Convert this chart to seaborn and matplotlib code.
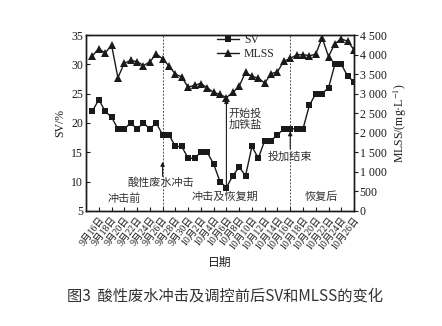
import matplotlib
matplotlib.use("Agg")
import matplotlib.pyplot as plt
import pandas as pd
import seaborn as sns

# Daily sampling dates
dates = pd.date_range("2018-09-15", "2018-10-26", freq="D")

# Sludge settling ratio SV (%)
sv = [22, 24, 22, 21, 19, 19, 20, 19, 20, 19, 20, 18, 18, 16, 16, 14,
      14, 15, 15, 13, 10, 9, 11, 12.5, 11, 16, 14, 17, 17, 18, 19, 19,
      19, 19, 23, 25, 25, 26, 30, 30, 28, 27]

# Mixed liquor suspended solids MLSS (mg/L)
mlss = [3970, 4150, 4040, 4240, 3410, 3780, 3850, 3820, 3720, 3810, 4020,
        3890, 3710, 3500, 3430, 3160, 3220, 3260, 3150, 3030, 2980, 2900,
        3030, 3190, 3550, 3440, 3400, 3270, 3510, 3560, 3830, 3900, 3990,
        4000, 3970, 4010, 4430, 3950, 4280, 4400, 4340, 4120]

tick_dates = pd.date_range("2018-09-16", "2018-10-26", freq="2D")
tick_labels = [f"{d.month}月{d.day}日" for d in tick_dates]
sv_ticks = [5, 10, 15, 20, 25, 30, 35]
mlss_ticks = [0, 500, 1000, 1500, 2000, 2500, 3000, 3500, 4000, 4500]
mlss_labels = ["0", "500", "1 000", "1 500", "2 000", "2 500", "3 000",
               "3 500", "4 000", "4 500"]

shock_day = pd.Timestamp("2018-09-26")
dose_start = pd.Timestamp("2018-10-06")
dose_end = pd.Timestamp("2018-10-16")

sns.set_theme(style="ticks")
plt.rcParams["font.family"] = ["Liberation Serif", "Noto Sans CJK SC"]
plt.rcParams["mathtext.fontset"] = "stix"

fig = plt.figure(figsize=(4.42, 3.26), dpi=100)
ax = fig.add_axes([0.1946, 0.3528, 0.6064, 0.5398])
ax2 = ax.twinx()

df = pd.DataFrame({"date": dates, "SV": sv, "MLSS": mlss})
ink = "#1a1a1a"
sns.lineplot(data=df, x="date", y="SV", ax=ax, color=ink, lw=1.0,
             marker="s", markersize=4.6, markeredgewidth=0, label="SV",
             legend=False)
sns.lineplot(data=df, x="date", y="MLSS", ax=ax2, color=ink, lw=1.0,
             marker="^", markersize=5.2, markeredgewidth=0, label="MLSS",
             legend=False)

ax.set_xlim(pd.Timestamp("2018-09-14"), pd.Timestamp("2018-10-26"))
ax.set_ylim(5, 35)
ax2.set_ylim(0, 4500)

ax.set_xticks(tick_dates)
ax.set_xticklabels(tick_labels, rotation=52, ha="right",
                   rotation_mode="anchor", fontsize=7)
ax.set_yticks(sv_ticks)
ax.set_yticklabels([str(v) for v in sv_ticks], fontsize=8.5)
ax2.set_yticks(mlss_ticks)
ax2.set_yticklabels(mlss_labels, fontsize=8.5)

ax.tick_params(axis="x", direction="in", length=3, width=0.8, pad=3,
               colors=ink)
ax.tick_params(axis="y", direction="in", length=3, width=0.8, pad=2,
               colors=ink)
ax2.tick_params(axis="y", direction="out", length=3, width=0.8, pad=1,
                colors=ink)
for a in (ax, ax2):
    for s in a.spines.values():
        s.set_linewidth(1.0)
        s.set_color(ink)

ax.set_xlabel("日期", fontsize=8.5, labelpad=4, color=ink)
ax.set_ylabel("SV/%", fontsize=8.5, labelpad=4, color=ink)
ax2.set_ylabel("MLSS/(mg·L$^{-1}$)", fontsize=8.5, labelpad=4, color=ink)

for d in (shock_day, dose_end):
    ax.axvline(d, color="#555555", lw=0.7, ls=(0, (2, 1.5)), zorder=0)

txt = dict(fontsize=8, color="#333333")
arrow = dict(arrowstyle="-|>", color=ink, lw=0.8, mutation_scale=6,
             shrinkA=0, shrinkB=0)

ax.annotate("", xy=(shock_day, 13.4), xytext=(shock_day, 10.9),
            arrowprops=arrow)
ax.text(pd.Timestamp("2018-09-25 18:00"), 9.8, "酸性废水冲击",
        ha="center", va="center", **txt)

ax.annotate("", xy=(dose_start, 24.1), xytext=(dose_start, 9.4),
            arrowprops=arrow)
ax.text(pd.Timestamp("2018-10-06 08:00"), 20.6, "开始投\n加铁盐",
        ha="left", va="center", linespacing=1.1, **txt)

ax.annotate("", xy=(dose_end, 18.6), xytext=(dose_end, 15.6),
            arrowprops=arrow)
ax.text(dose_end, 14.2, "投加结束", ha="center", va="center", **txt)

ax.text(pd.Timestamp("2018-09-19 22:00"), 7.1, "冲击前",
        ha="center", va="center", **txt)
ax.text(pd.Timestamp("2018-10-05 20:00"), 7.4, "冲击及恢复期",
        ha="center", va="center", **txt)
ax.text(pd.Timestamp("2018-10-20 20:00"), 7.4, "恢复后",
        ha="center", va="center", **txt)

h1, l1 = ax.get_legend_handles_labels()
h2, l2 = ax2.get_legend_handles_labels()
ax.legend(h1 + h2, l1 + l2, loc="upper left", bbox_to_anchor=(0.47, 1.03),
          frameon=False, fontsize=8.5, handlelength=1.9, handletextpad=0.4,
          labelspacing=0.15, borderaxespad=0)

fig.text(0.51, 0.092, "图3  酸性废水冲击及调控前后SV和MLSS的变化",
         ha="center", va="center", fontsize=11, color="#333333",
         family=["Noto Sans CJK SC", "DejaVu Sans"])

fig.savefig("out.png", dpi=100, facecolor="white")
